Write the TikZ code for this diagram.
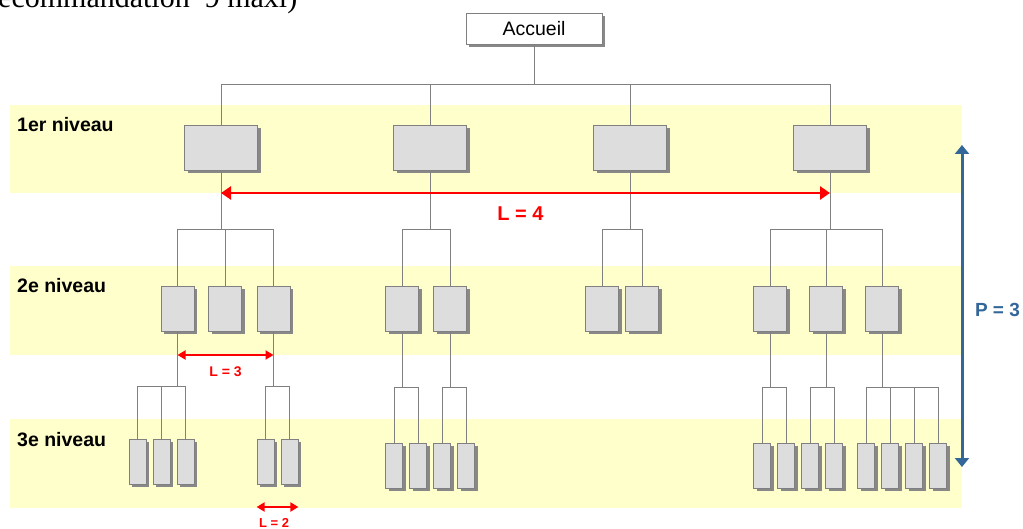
\documentclass[tikz,border=0pt]{standalone}
\usepackage{fontspec}
\setmainfont{Liberation Sans}
\newfontfamily\serif{Liberation Serif}
\usetikzlibrary{shadows,arrows.meta}

\definecolor{bande}{RGB}{255,255,204}
\definecolor{boite}{RGB}{221,221,221}
\definecolor{trait}{RGB}{128,128,128}
\definecolor{ombre}{RGB}{136,136,136}
\definecolor{bleu}{RGB}{51,102,153}

\begin{document}
\begin{tikzpicture}[x=1pt,y=-1pt]
\tikzstyle{every node}+=[inner sep=0pt]
\tikzstyle{rect}=[draw=trait, fill=boite, line width=0.8pt, minimum height=45pt, drop shadow={shadow xshift=3pt, shadow yshift=-3pt, fill=ombre, opacity=1}]
\tikzstyle{lien}=[draw=trait, line width=0.8pt]
\tikzstyle{niveau}=[anchor=base west, font=\fontsize{19.5}{19.5}\selectfont\bfseries]
\tikzstyle{rouge}=[draw=red, line width=2.6pt, {Triangle[length=10pt,width=13pt]}-{Triangle[length=10pt,width=13pt]}]
\tikzstyle{rougep}=[draw=red, line width=2pt, {Triangle[length=8pt,width=9pt]}-{Triangle[length=8pt,width=9pt]}]
\useasboundingbox (0,0) rectangle (1023,529);
\fill [bande] (10,105) rectangle (962,193);
\fill [bande] (10,266) rectangle (962,355);
\fill [bande] (10,419) rectangle (962,508);
\node [anchor=base west, font=\serif\fontsize{30}{30}\selectfont] (titre) at (-2,8) {ecommandation \ 9 maxi)};
\node [rect, fill=white, minimum width=136pt, minimum height=31pt, font=\fontsize{19.5}{19.5}\selectfont] (acc) at (534,28.5) {Accueil};
\foreach \n/\x in {a/221,b/430,c/630,d/830}
  \node [rect, minimum width=73pt] (\n) at (\x,147.5) {};
\foreach \n/\x in {a1/177.5,a2/225,a3/273.5,b1/402,b2/450,c1/602,c2/642,d1/770,d2/826,d3/882}
  \node [rect, minimum width=33pt] (\n) at (\x,308.5) {};
\foreach \n/\x in {a11/137.5,a12/161.5,a13/185.5,a31/265.5,a32/289.5}
  \node [rect, minimum width=17pt] (\n) at (\x,461.5) {};
\foreach \n/\x in {b11/394,b12/418,b21/442,b22/466,d11/762,d12/786,d21/810,d22/834,d31/866,d32/890,d33/914,d34/938}
  \node [rect, minimum width=17pt] (\n) at (\x,465.5) {};
\draw [lien] (acc.south) -- (acc.south |- 0,84);
\draw [lien] (a.north |- 0,84) -- (d.north |- 0,84);
\foreach \c in {a,b,c,d}
  \draw [lien] (\c.north |- 0,84) -- (\c.north);
\foreach \p/\y/\cs in {a/229/{a1,a2,a3},b/229/{b1,b2},c/229/{c1,c2},d/229/{d1,d2,d3},a1/386/{a11,a12,a13},a3/386/{a31,a32},b1/387/{b11,b12},b2/387/{b21,b22},d1/387/{d11,d12},d2/387/{d21,d22},d3/387/{d31,d32,d33,d34}}{
  \draw [lien] (\p.south) -- (\p.south |- 0,\y);
  \foreach \c [count=\i] in \cs {
    \ifnum\i=1 \xdef\premier{\c}\fi
    \xdef\dernier{\c}
    \draw [lien] (\c.north |- 0,\y) -- (\c.north);
  }
  \draw [lien] (\premier.north |- 0,\y) -- (\dernier.north |- 0,\y);
}
\coordinate (g4) at (a.south |- 0,193);
\coordinate (d4) at (d.south |- 0,193);
\draw [rouge] (g4) -- (d4);
\node [font=\fontsize{20}{20}\selectfont\bfseries, text=red, anchor=base] (l4) at (520.5,221) {L = 4};
\coordinate (g3) at (a1.south |- 0,355);
\coordinate (d3) at (a3.south |- 0,355);
\draw [rougep] (g3) -- (d3);
\node [font=\fontsize{14}{14}\selectfont\bfseries, text=red, anchor=base] (l3) at (225.5,377) {L = 3};
\coordinate (g2) at (a31.west |- 0,507);
\coordinate (d2) at (a32.east |- 0,507);
\draw [rougep] (g2) -- (d2);
\node [font=\fontsize{13}{13}\selectfont\bfseries, text=red, anchor=base] (l2) at (274,527.5) {L = 2};
\coordinate (ph) at (962,145);
\coordinate (pb) at (962,467);
\draw [draw=bleu, line width=3pt, {Triangle[length=9pt,width=14pt]}-{Triangle[length=9pt,width=14pt]}] (ph) -- (pb);
\node [font=\fontsize{19}{19}\selectfont\bfseries, text=bleu, anchor=base] (p3) at (997.5,317) {P = 3};
\node [niveau] (n1) at (17,132) {1er niveau};
\node [niveau] (n2) at (17,293) {2e niveau};
\node [niveau] (n3) at (17,446) {3e niveau};
\end{tikzpicture}
\end{document}
